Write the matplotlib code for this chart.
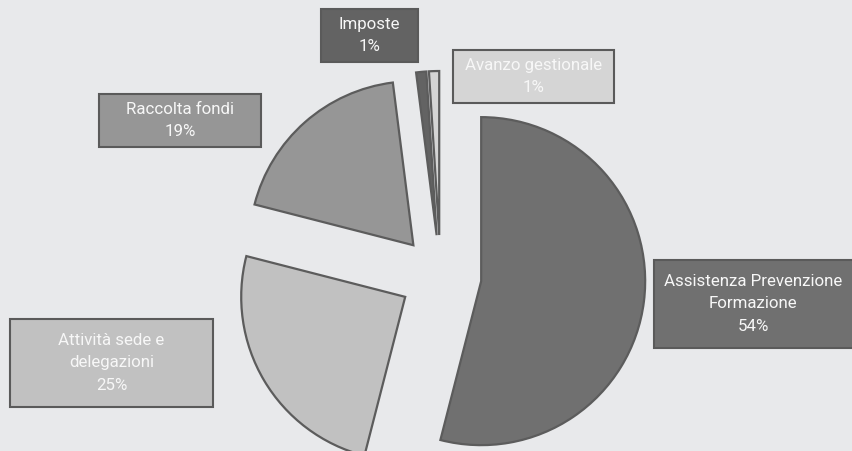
import matplotlib.pyplot as plt
from matplotlib.patches import Rectangle

# Dati
categorie = ['Assistenza Prevenzione\nFormazione', 'Attività sede e\ndelegazioni',
             'Raccolta fondi', 'Imposte', 'Avanzo gestionale']
valori = [54, 25, 19, 1, 1]
colori = ['#707070', '#c1c1c1', '#969696', '#636363', '#d5d5d5']

# Posizione dei riquadri etichetta (pixel: x0, y0 dall'alto, larghezza, altezza)
riquadri = [(654, 260, 200, 88), (10, 319, 203, 88), (99, 94, 162, 53),
            (321, 9, 97, 53), (453, 50, 161, 53)]

W, H = 852, 451
sfondo = '#e8e9eb'
fig = plt.figure(figsize=(W / 100, H / 100), dpi=100, facecolor=sfondo)
ax = fig.add_axes([0, 0, 1, 1])
ax.set_facecolor(sfondo)

r = 164.0
cx, cy = 440.5, 276.0
ax.pie(valori, colors=colori, startangle=90, counterclock=False,
       explode=[0.25] * len(valori), radius=1,
       wedgeprops=dict(edgecolor='#5c5c5c', linewidth=1.6))
ax.set_xlim(-cx / r, (W - cx) / r)
ax.set_ylim(-(H - cy) / r, cy / r)
ax.set_aspect('auto')
ax.axis('off')

for i, (x0, y0, w, h) in enumerate(riquadri):
    rect = Rectangle((x0 / W, 1 - (y0 + h) / H), w / W, h / H,
                     transform=fig.transFigure, facecolor=colori[i],
                     edgecolor='#5a5a5a', linewidth=1.5, zorder=5)
    fig.patches.append(rect)
    testo = f'{categorie[i]}\n{valori[i]}%'
    fig.text((x0 + w / 2) / W if i != 0 else 753 / W, 1 - (y0 + h / 2) / H, testo,
             ha='center', va='center', multialignment='center',
             color='#f7f7f7', fontsize=12.2, family=['Roboto', 'DejaVu Sans'],
             linespacing=1.6, zorder=6)

plt.savefig('out.png', dpi=100, facecolor=sfondo)
